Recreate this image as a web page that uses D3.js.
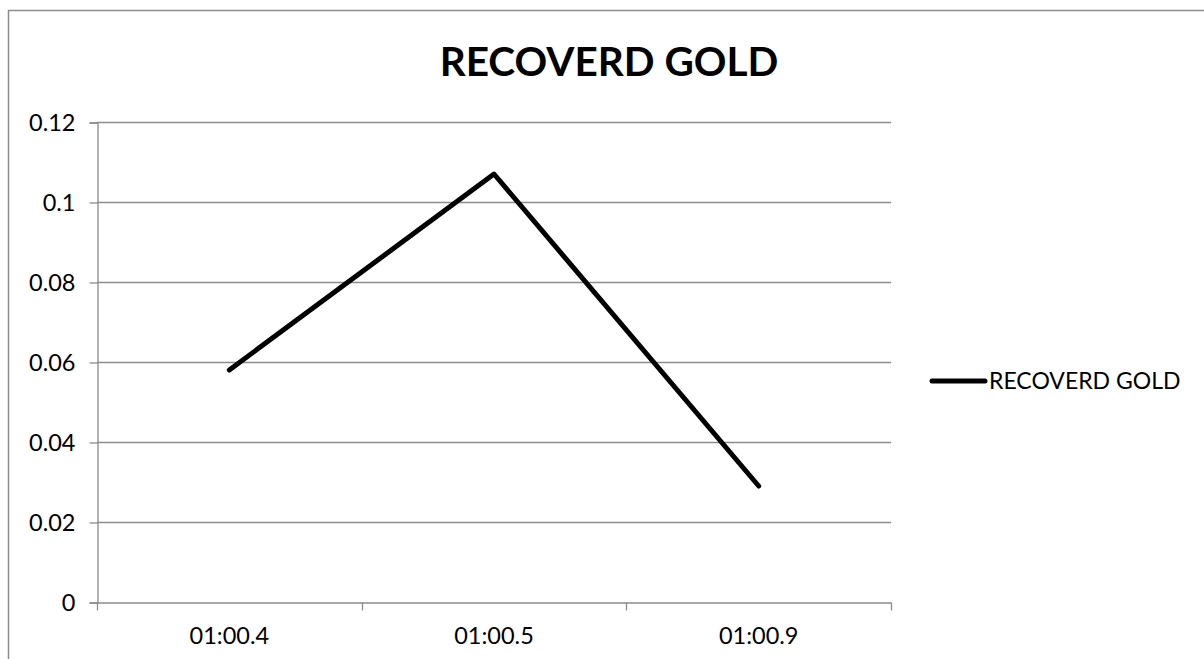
<!DOCTYPE html>
<html>
<head>
<meta charset="utf-8">
<script src="https://cdn.jsdelivr.net/npm/d3@7"></script>
<style>
  body { margin: 0; background: #fff; }
  svg text { font-family: Lato, "Open Sans", sans-serif; fill: #000; }
</style>
</head>
<body>
<div class="gold-chart"></div>
<script>
'use strict';

var categories = ['01:00.4', '01:00.5', '01:00.9'],
    goldValues = [0.058, 0.107, 0.029],
    yTicks = [0, 0.02, 0.04, 0.06, 0.08, 0.1, 0.12],
    seriesName = 'RECOVERD GOLD',
    chartTitle = 'RECOVERD GOLD';

var width = 1204,
    height = 659,
    plot = { left: 97, right: 891, top: 122, bottom: 602 },
    svg = d3.select('.gold-chart').append('svg').attr('width', width).attr('height', height);

var x = d3.scaleBand().domain(categories).range([plot.left, plot.right]),
    y = d3.scaleLinear().domain([0, 0.12]).range([plot.bottom, plot.top]);

// chart outer border
svg.append('rect')
  .attr('x', 8.5).attr('y', 10.5)
  .attr('width', 1210).attr('height', 670)
  .attr('fill', 'none').attr('stroke', '#8c8c8c').attr('stroke-width', 1.5);

svg.append('text')
  .attr('x', 609).attr('y', 76)
  .attr('text-anchor', 'middle')
  .style('font-size', '40.5px').style('font-weight', 'bold')
  .text(chartTitle);

// gridlines
svg.append('g').selectAll('line').data(yTicks.filter(function (d) { return d > 0; })).enter().append('line')
  .attr('x1', plot.left).attr('x2', plot.right)
  .attr('y1', function (d) { return Math.round(y(d)) + 0.5; })
  .attr('y2', function (d) { return Math.round(y(d)) + 0.5; })
  .attr('stroke', '#8c8c8c').attr('stroke-width', 1.3);

// y axis
var yAxis = svg.append('g')
  .attr('transform', 'translate(' + (plot.left + 0.5) + ',0.5)')
  .call(d3.axisLeft(y).tickValues(yTicks).tickSize(8).tickPadding(14).tickFormat(function (d) { return String(d); }));

// x axis
var xAxis = svg.append('g')
  .attr('transform', 'translate(0,' + (plot.bottom + 0.5) + ')')
  .call(d3.axisBottom(x).tickSize(0).tickPadding(25));

// category boundary ticks, Excel style
var edges = categories.map(function (c) { return x(c); }).concat([plot.right]);
xAxis.selectAll('line.edge').data(edges).enter().append('line')
  .attr('class', 'edge')
  .attr('x1', function (d) { return Math.round(d) + 0.5; })
  .attr('x2', function (d) { return Math.round(d) + 0.5; })
  .attr('y1', 0).attr('y2', 8);

[yAxis, xAxis].forEach(function (g) {
  g.select('.domain').attr('stroke', '#8c8c8c').attr('stroke-width', 1.3);
  g.selectAll('line').attr('stroke', '#8c8c8c').attr('stroke-width', 1.3);
  g.selectAll('text').style('font-size', '23.5px').attr('fill', '#000');
});
xAxis.selectAll('.tick text').attr('dy', '0.71em');

// series line
var line = d3.line()
  .x(function (d, i) { return x(categories[i]) + x.bandwidth() / 2; })
  .y(function (d) { return y(d); });

svg.append('path')
  .datum(goldValues)
  .attr('d', line)
  .attr('fill', 'none')
  .attr('stroke', '#000')
  .attr('stroke-width', 5)
  .attr('stroke-linejoin', 'round')
  .attr('stroke-linecap', 'round');

// legend
var legend = svg.append('g').attr('transform', 'translate(932,381)');
legend.append('line')
  .attr('x1', 0).attr('x2', 53)
  .attr('stroke', '#000').attr('stroke-width', 5).attr('stroke-linecap', 'round');
legend.append('text')
  .attr('x', 57).attr('y', 0).attr('dy', '0.35em')
  .style('font-size', '23px')
  .text(seriesName);
</script>
</body>
</html>
